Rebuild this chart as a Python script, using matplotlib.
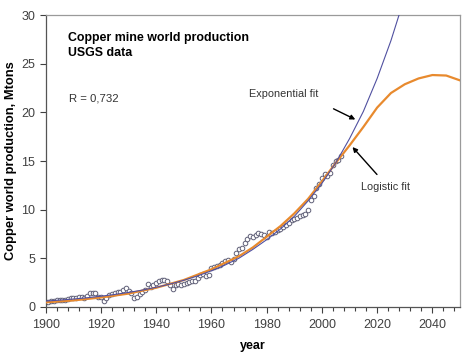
import matplotlib
matplotlib.use("Agg")
import matplotlib.pyplot as plt
from matplotlib.ticker import MultipleLocator

plt.rcParams['font.family'] = ['Liberation Sans', 'DejaVu Sans']

# Observed production (Mt), 1900-2007
years = list(range(1900, 2008))
production = [
    0.50, 0.53, 0.56, 0.60, 0.66, 0.70, 0.72, 0.72, 0.76, 0.85,
    0.87, 0.89, 1.02, 1.00, 0.93, 1.10, 1.40, 1.43, 1.40, 1.00,
    0.97, 0.60, 0.90, 1.25, 1.35, 1.45, 1.50, 1.55, 1.75, 1.95,
    1.60, 1.40, 0.92, 1.00, 1.30, 1.50, 1.70, 2.30, 2.00, 2.20,
    2.45, 2.60, 2.70, 2.70, 2.60, 2.20, 1.80, 2.20, 2.30, 2.20,
    2.30, 2.40, 2.50, 2.60, 2.60, 3.00, 3.30, 3.40, 3.20, 3.30,
    4.00, 4.10, 4.20, 4.30, 4.50, 4.70, 4.80, 4.60, 4.90, 5.50,
    5.90, 6.00, 6.60, 7.00, 7.30, 7.20, 7.40, 7.60, 7.50, 7.40,
    7.20, 7.70, 7.60, 7.70, 7.90, 8.00, 8.20, 8.40, 8.60, 8.90,
    9.00, 9.10, 9.30, 9.40, 9.50, 10.0, 11.0, 11.4, 12.2, 12.6,
    13.2, 13.7, 13.5, 13.8, 14.6, 15.0, 15.1, 15.5,
]

# Exponential fit
exp_years = [1900, 1905, 1910, 1915, 1920, 1925, 1930, 1935, 1940, 1945,
             1950, 1955, 1960, 1965, 1970, 1975, 1980, 1985, 1990, 1995,
             2000, 2005, 2010, 2015, 2020, 2025, 2030]
exp_fit = [0.58, 0.68, 0.79, 0.92, 1.08, 1.26, 1.47, 1.71, 2.00, 2.33,
           2.72, 3.17, 3.70, 4.30, 5.00, 5.90, 6.90, 8.00, 9.30, 10.9,
           12.7, 14.8, 17.3, 20.1, 23.5, 27.4, 31.9]

# Logistic fit
log_years = [1900, 1910, 1920, 1930, 1940, 1950, 1960, 1970, 1975, 1980,
             1985, 1990, 1995, 2000, 2005, 2010, 2015, 2020, 2025, 2030,
             2035, 2040, 2045, 2050]
log_fit = [0.45, 0.65, 0.95, 1.35, 1.95, 2.75, 3.85, 5.20, 6.10, 7.20,
           8.30, 9.60, 11.1, 12.9, 14.8, 16.6, 18.5, 20.5, 22.0, 22.9,
           23.5, 23.85, 23.8, 23.3]

fig = plt.figure(figsize=(4.74, 3.61), dpi=100)
ax = fig.add_axes([0.0964, 0.1504, 0.8741, 0.8072])

ax.plot(years, production, linestyle='none', marker='o', markersize=3.3,
        markerfacecolor='white', markeredgecolor='#606078', markeredgewidth=0.7, zorder=2)
ax.plot(log_years, log_fit, color='#E88A2E', lw=1.6, zorder=3)
ax.plot(exp_years, exp_fit, color='#5050A0', lw=0.8, zorder=4)

ax.set_xlim(1900, 2050)
ax.set_ylim(0, 30)
ax.xaxis.set_major_locator(MultipleLocator(20))
ax.xaxis.set_minor_locator(MultipleLocator(4))
ax.yaxis.set_major_locator(MultipleLocator(5))
ax.tick_params(axis='both', which='major', labelsize=9, labelcolor='#404040',
               color='#404040', length=4, width=0.8, direction='out')
ax.tick_params(axis='x', which='minor', color='#404040', length=3, width=0.8, direction='out')
ax.tick_params(axis='x', which='major', pad=5)

for s in ['left', 'bottom']:
    ax.spines[s].set_color('#555555')
    ax.spines[s].set_linewidth(0.9)
for s in ['top', 'right']:
    ax.spines[s].set_color('#9a9a9a')
    ax.spines[s].set_linewidth(0.9)

ax.set_xlabel('year', fontsize=9, fontweight='bold', labelpad=6)
ax.set_ylabel('Copper world production, Mtons', fontsize=9.3, fontweight='bold', labelpad=3)

ax.text(1908, 26.9, 'Copper mine world production\nUSGS data', fontsize=8.9,
        fontweight='bold', va='center', ha='left', linespacing=1.3)
ax.text(1908.5, 21.4, 'R = 0,732', fontsize=8.2, va='center', ha='left', color='#333333')
ax.text(1973.5, 21.9, 'Exponential fit', fontsize=7.8, va='center', ha='left', color='#333333')
ax.text(2014.3, 12.3, 'Logistic fit', fontsize=7.8, va='center', ha='left', color='#333333')

ax.annotate('', xy=(2013.0, 19.15), xytext=(2003.3, 20.5),
            arrowprops=dict(arrowstyle='-|>', color='black', lw=1.0, mutation_scale=7))
ax.annotate('', xy=(2010.4, 16.65), xytext=(2020.6, 13.4),
            arrowprops=dict(arrowstyle='-|>', color='black', lw=1.0, mutation_scale=7))

fig.savefig('out.png', dpi=100)
